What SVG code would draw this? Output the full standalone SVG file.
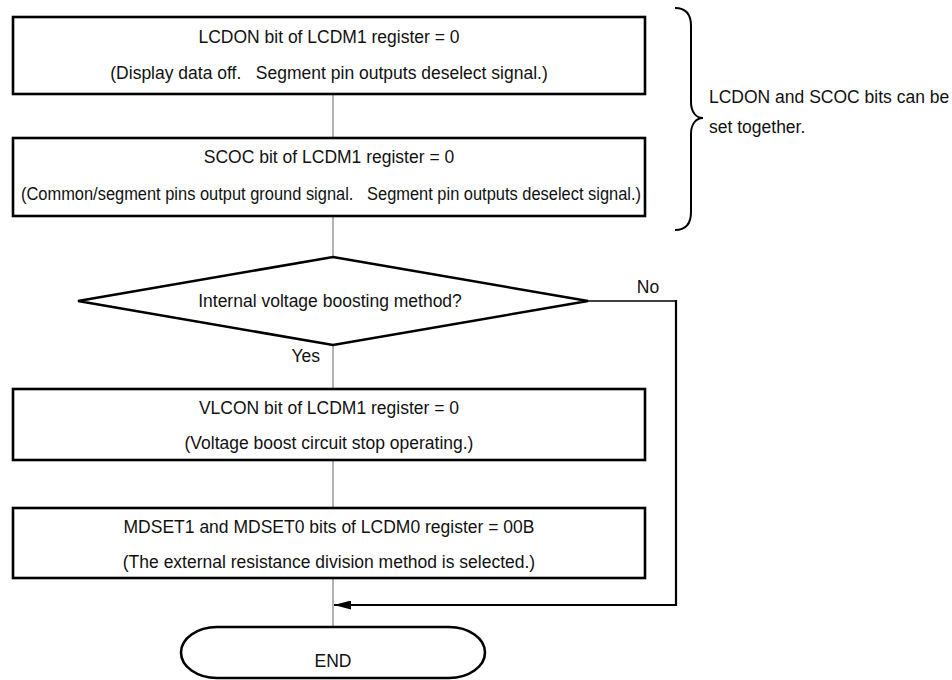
<svg xmlns="http://www.w3.org/2000/svg" width="952" height="680" viewBox="0 0 952 680">
<style>
text{font-family:"Liberation Sans",Arial,sans-serif;font-size:17.5px;fill:#111}
.c{text-anchor:middle}
.box{fill:#fff;stroke:#000;stroke-width:2.6}
.conn{stroke:#808080;stroke-width:1.2;fill:none}
.flow{stroke:#000;stroke-width:2.2;fill:none}
</style>
<defs>
<marker id="ah" viewBox="0 0 17 9" refX="17" refY="4.5" markerWidth="17" markerHeight="9" markerUnits="userSpaceOnUse" orient="auto">
<path d="M0,0 L17,4.5 L0,9 z" fill="#000"/>
</marker>
</defs>
<rect width="952" height="680" fill="#fff"/>
<g id="connectors">
<line class="conn" x1="333" y1="94" x2="333" y2="138"/>
<line class="conn" x1="333" y1="216" x2="333" y2="257"/>
<line class="conn" x1="333" y1="345" x2="333" y2="389"/>
<line class="conn" x1="333" y1="460" x2="333" y2="508"/>
<line class="conn" x1="333" y1="578" x2="333" y2="627"/>
<line x1="588" y1="301" x2="676" y2="301" stroke="#000" stroke-width="1.5"/>
<polyline class="flow" points="676,300 676,605 334,605" marker-end="url(#ah)"/>
</g>
<g id="n1">
<rect class="box" x="13" y="17" width="632" height="77"/>
<text class="c" x="329" y="43">LCDON bit of LCDM1 register = 0</text>
<text class="c" x="329" y="79" xml:space="preserve">(Display data off.   Segment pin outputs deselect signal.)</text>
</g>
<g id="n2">
<rect class="box" x="13" y="138" width="632" height="78"/>
<text class="c" x="329" y="163">SCOC bit of LCDM1 register = 0</text>
<text class="c" x="331" y="200" textLength="620" lengthAdjust="spacingAndGlyphs" xml:space="preserve">(Common/segment pins output ground signal.   Segment pin outputs deselect signal.)</text>
</g>
<g id="brace">
<path d="M675,8 C686,8 691,14 691,26 L691,102 C691,112 696,118 703,118 C696,118 691,124 691,134 L691,212 C691,224 686,230 675,230" fill="none" stroke="#000" stroke-width="2"/>
<text x="709" y="103">LCDON and SCOC bits can be</text>
<text x="709" y="133">set together.</text>
</g>
<g id="n3">
<polygon class="box" points="333,257 588,301 333,345 78,301"/>
<text class="c" x="330" y="307">Internal voltage boosting method?</text>
<text x="320" y="362" text-anchor="end">Yes</text>
<text class="c" x="648" y="293">No</text>
</g>
<g id="n4">
<rect class="box" x="13" y="389" width="632" height="71"/>
<text class="c" x="329" y="414">VLCON bit of LCDM1 register = 0</text>
<text class="c" x="329" y="449">(Voltage boost circuit stop operating.)</text>
</g>
<g id="n5">
<rect class="box" x="13" y="508" width="632" height="70"/>
<text class="c" x="329" y="533">MDSET1 and MDSET0 bits of LCDM0 register = 00B</text>
<text class="c" x="329" y="568">(The external resistance division method is selected.)</text>
</g>
<g id="n6">
<rect class="box" x="181" y="627" width="304" height="51" rx="36" ry="25.5"/>
<text class="c" x="333" y="667">END</text>
</g>
</svg>
